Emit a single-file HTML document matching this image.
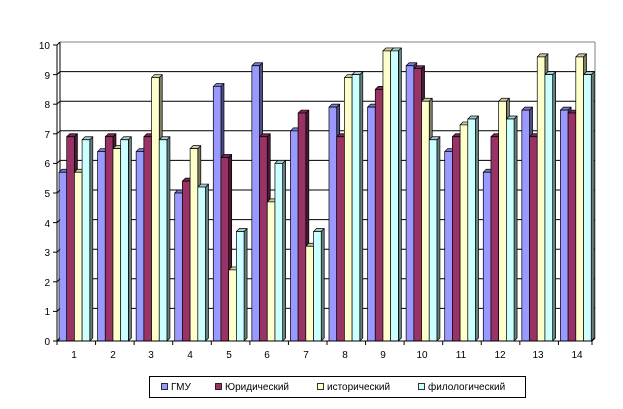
<!DOCTYPE html>
<html><head><meta charset="utf-8"><style>
html,body{margin:0;padding:0;background:#fff;}
svg{display:block;font-family:"Liberation Sans",sans-serif;}
</style></head><body>
<svg id="c" width="623" height="409" xmlns="http://www.w3.org/2000/svg">
<g id="grid" stroke="#000" stroke-width="1"></g>
<g id="bars"></g>
<g id="axes" stroke="#000" stroke-width="1"></g>
<g font-size="10" fill="#000" text-anchor="end">
<text x="50" y="345">0</text><text x="50" y="315">1</text><text x="50" y="286">2</text><text x="50" y="256">3</text><text x="50" y="227">4</text><text x="50" y="197">5</text><text x="50" y="167">6</text><text x="50" y="138">7</text><text x="50" y="108">8</text><text x="50" y="79">9</text><text x="50" y="49">10</text>
</g>
<g font-size="10" fill="#000" text-anchor="middle">
<text x="74" y="358">1</text><text x="113" y="358">2</text><text x="151" y="358">3</text><text x="190" y="358">4</text><text x="229" y="358">5</text><text x="267" y="358">6</text><text x="306" y="358">7</text><text x="345" y="358">8</text><text x="383" y="358">9</text><text x="422" y="358">10</text><text x="461" y="358">11</text><text x="500" y="358">12</text><text x="538" y="358">13</text><text x="577" y="358">14</text>
</g>
<rect x="149.5" y="376.5" width="376" height="21" fill="#fff" stroke="#000"/>
<g font-size="10" fill="#000" stroke="#000" stroke-width="0.8">
<rect x="161.5" y="383.5" width="6" height="6" fill="#9999FF"/>
<rect x="215.5" y="383.5" width="6" height="6" fill="#993366"/>
<rect x="317.5" y="383.5" width="6" height="6" fill="#FFFFCC"/>
<rect x="418.5" y="383.5" width="6" height="6" fill="#CCFFFF"/>
</g>
<g font-size="10" fill="#000">
<text x="171" y="390">ГМУ</text>
<text x="225" y="390">Юридический</text>
<text x="327" y="390">исторический</text>
<text x="428" y="390">филологический</text>
</g>
</svg>
<script>
var NS="http://www.w3.org/2000/svg";
function el(p,t,a){var e=document.createElementNS(NS,t);for(var k in a)e.setAttribute(k,a[k]);p.appendChild(e);return e;}
var g=document.getElementById('grid'),ax=document.getElementById('axes'),b=document.getElementById('bars');
var y0=341,u=29.6,d=3,X0=57,X1=592,cw=38.57;
el(g,'line',{x1:X0+d,y1:y0-d,x2:X0+d,y2:y0-d-10*u});
el(g,'line',{x1:X1+d,y1:y0-d,x2:X1+d,y2:y0-d-10*u,stroke:'#808080'});
el(g,'line',{x1:X0+d,y1:y0-d-10*u,x2:X1+d,y2:y0-d-10*u,stroke:'#808080'});
for(var k=1;k<=9;k++){var y=y0-d-k*u;el(g,'line',{x1:X0+d,y1:y,x2:X1+d,y2:y});}
for(var k=0;k<=10;k++){var y=y0-k*u;el(ax,'line',{x1:X0-4,y1:y,x2:X0,y2:y});el(ax,'line',{x1:X0,y1:y,x2:X0+d,y2:y-d});}
el(ax,'line',{x1:X0,y1:y0,x2:X0,y2:y0-10*u});
el(ax,'line',{x1:X0,y1:y0,x2:X1,y2:y0});
el(ax,'line',{x1:X1,y1:y0,x2:X1+d,y2:y0-d});
for(var i=0;i<=14;i++){var x=Math.min(X0+i*cw,X1);el(ax,'line',{x1:x,y1:y0,x2:x,y2:y0+4});}
var D=[[5.7,6.9,5.7,6.8],[6.4,6.9,6.5,6.8],[6.4,6.9,8.9,6.8],[5.0,5.4,6.5,5.2],[8.6,6.2,2.4,3.7],[9.3,6.9,4.7,6.0],[7.1,7.7,3.2,3.7],[7.9,6.9,8.9,9.0],[7.9,8.5,9.8,9.8],[9.3,9.2,8.1,6.8],[6.4,6.9,7.3,7.5],[5.7,6.9,8.1,7.5],[7.8,6.9,9.6,9.0],[7.8,7.7,9.6,9.0]];
var F=['#9999FF','#993366','#FFFFCC','#CCFFFF'],S=['#4d4d80','#4d1a33','#808066','#668080'],T=['#7a7acc','#7a2952','#cccca3','#a3cccc'];
var bw=7.7;
for(var i=0;i<14;i++)for(var j=0;j<4;j++){
var x=X0+i*cw+2+j*bw,v=D[i][j],t=y0-v*u,a={stroke:'#000','stroke-width':0.7,'stroke-linejoin':'round'};
var s=Object.assign({},a);s.fill=S[j];s.points=[x+bw,y0,x+bw+d,y0-d,x+bw+d,t-d,x+bw,t].join(' ');el(b,'polygon',s);
var tp=Object.assign({},a);tp.fill=T[j];tp.points=[x,t,x+d,t-d,x+bw+d,t-d,x+bw,t].join(' ');el(b,'polygon',tp);
var f=Object.assign({},a);f.fill=F[j];f.x=x;f.y=t;f.width=bw;f.height=v*u;el(b,'rect',f);
}
</script>
</body></html>
